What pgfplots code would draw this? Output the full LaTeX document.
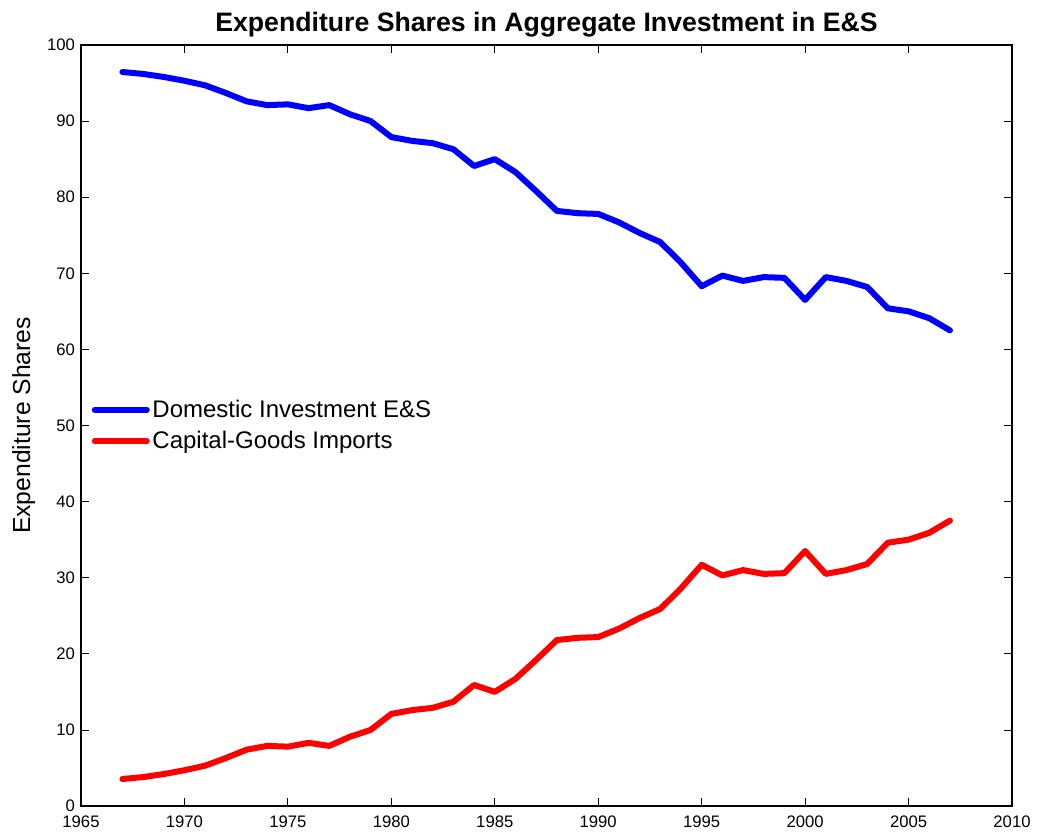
\documentclass[border=0pt]{standalone}
\usepackage{pgfplots}
\pgfplotsset{compat=1.18}
\usepackage{fontspec}
\setmainfont{Liberation Sans}
\begin{document}
\begin{tikzpicture}[x=1pt,y=1pt]
\begin{axis}[
  scale only axis,
  width=698.25pt, height=570.75pt,
  xmin=1965, xmax=2010, ymin=0, ymax=100,
  xtick={1965,1970,...,2010}, ytick={0,10,...,100},
  /pgf/number format/1000 sep={},
  /pgf/number format/assume math mode=true,
  xticklabel={\pgfmathprintnumber{\tick}},
  yticklabel={\pgfmathprintnumber{\tick}},
  tick align=inside, major tick length=6pt,
  tick style={black, line width=0.6pt},
  axis line style={black, line width=0.9pt},
  xticklabel style={font=\fontsize{12.5}{14}\selectfont, yshift=-4pt},
  yticklabel style={font=\fontsize{12.5}{14}\selectfont, xshift=-1pt},
  title={\textbf{Expenditure Shares in Aggregate Investment in E\&S}},
  title style={font=\fontsize{20}{23}\selectfont, yshift=-4pt},
  ylabel={Expenditure Shares},
  ylabel style={font=\fontsize{18.5}{21}\selectfont, yshift=2pt},
  legend style={draw=none, fill=none, at={(0.007,0.5)}, anchor=west, font=\fontsize{18}{21}\selectfont, row sep=5pt},
  legend cell align=left,
  legend image code/.code={\draw[#1, line width=4.5pt] (0pt,0pt) -- (39pt,0pt);},
]
\addplot[blue, line width=4.5pt, line join=round, line cap=round] coordinates {
(1967,96.45) (1968,96.2) (1969,95.8) (1970,95.3) (1971,94.7) (1972,93.7) (1973,92.6) (1974,92.1) (1975,92.2) (1976,91.7)
(1977,92.1) (1978,90.9) (1979,90.0) (1980,87.9) (1981,87.4) (1982,87.1) (1983,86.3) (1984,84.1) (1985,85.0) (1986,83.3)
(1987,80.8) (1988,78.2) (1989,77.9) (1990,77.8) (1991,76.7) (1992,75.3) (1993,74.1) (1994,71.4) (1995,68.3) (1996,69.7)
(1997,69.0) (1998,69.5) (1999,69.4) (2000,66.5) (2001,69.5) (2002,69.0) (2003,68.2) (2004,65.4) (2005,65.0) (2006,64.1) (2007,62.5)
};
\addlegendentry{Domestic Investment E\&S}
\addplot[red, line width=4.5pt, line join=round, line cap=round] coordinates {
(1967,3.55) (1968,3.8) (1969,4.2) (1970,4.7) (1971,5.3) (1972,6.3) (1973,7.4) (1974,7.9) (1975,7.8) (1976,8.3)
(1977,7.9) (1978,9.1) (1979,10.0) (1980,12.1) (1981,12.6) (1982,12.9) (1983,13.7) (1984,15.9) (1985,15.0) (1986,16.7)
(1987,19.2) (1988,21.8) (1989,22.1) (1990,22.2) (1991,23.3) (1992,24.7) (1993,25.9) (1994,28.6) (1995,31.7) (1996,30.3)
(1997,31.0) (1998,30.5) (1999,30.6) (2000,33.5) (2001,30.5) (2002,31.0) (2003,31.8) (2004,34.6) (2005,35.0) (2006,35.9) (2007,37.5)
};
\addlegendentry{Capital-Goods Imports}
\end{axis}
\path ([xshift=-60.75pt, yshift=-22.5pt]current axis.south west) rectangle ([xshift=22.5pt, yshift=33.75pt]current axis.north east);
\end{tikzpicture}
\end{document}
